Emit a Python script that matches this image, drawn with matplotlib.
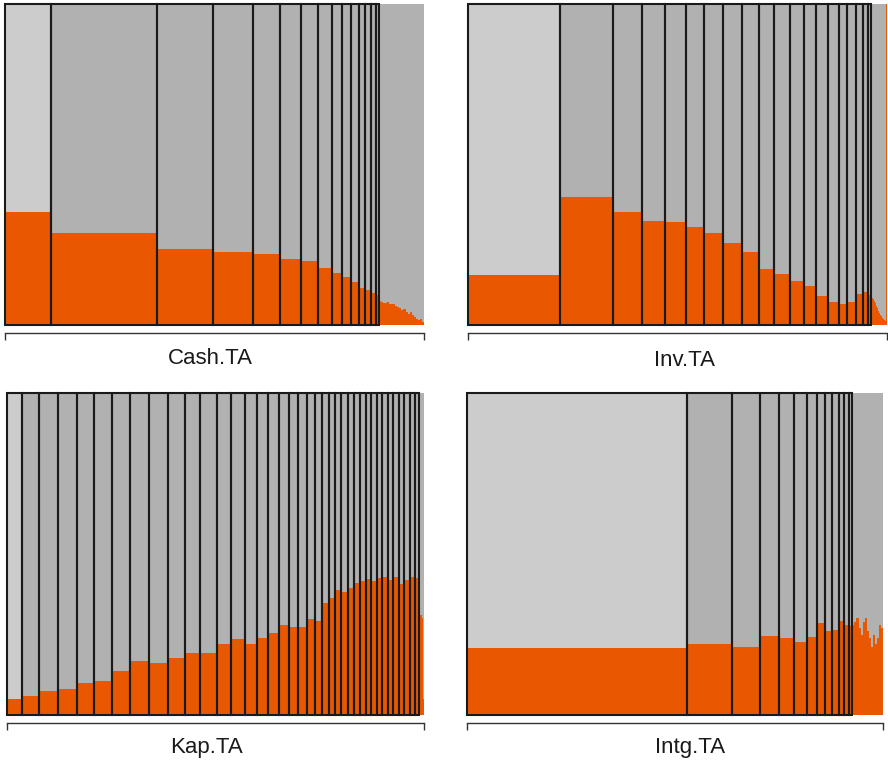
import numpy as np
import matplotlib
matplotlib.use("Agg")
import matplotlib.pyplot as plt

plt.rcParams['font.family'] = ['Liberation Sans', 'DejaVu Sans']

ORANGE = '#e95800'
LIGHT = '#cccccc'
DARK = '#b1b1b1'

# relative bin widths (share of sample) and orange share per bin
cash_widths = [45.7, 106.3, 56, 39, 27, 21, 17, 14, 10, 9, 8, 6, 6, 5, 3]
cash_props = [0.352, 0.288, 0.236, 0.228, 0.222, 0.205, 0.200, 0.177, 0.163,
              0.150, 0.135, 0.114, 0.109, 0.099, 0.093]
cash_tail_width = 45
cash_tail = [0.075, 0.072, 0.070, 0.068, 0.071, 0.066, 0.064, 0.066, 0.060, 0.055, 0.052,
             0.048, 0.050, 0.040, 0.035, 0.042, 0.030, 0.025, 0.020, 0.015, 0.018, 0.010]

inv_widths = [91.7, 53.3, 29, 22.7, 20.7, 18.6, 19, 19, 17, 15, 15.7, 14, 12,
              11.7, 11, 8.6, 8.4, 7, 5.6, 2.4]
inv_props = [0.156, 0.400, 0.351, 0.325, 0.320, 0.306, 0.286, 0.254, 0.228, 0.173,
             0.159, 0.137, 0.121, 0.090, 0.073, 0.065, 0.072, 0.098, 0.104, 0.095]
inv_tail_width = 16
inv_tail = [0.090, 0.085, 0.080, 0.074, 0.068, 0.060, 0.052, 0.045, 0.038, 0.032,
            0.027, 0.022, 0.018, 0.015, 0.012, 1.0]

kap_widths = [14.7, 17.3, 18.4, 19, 17.6, 17.4, 18.3, 19, 18.7, 17.6, 15, 16.4, 14.3,
              14, 12, 11.3, 11, 10, 9, 8.7, 7.7, 7, 7, 6.3, 6.3, 6.4, 6, 6.3, 6,
              5.3, 5.7, 5.3, 5.4, 5.6, 5.4, 5.6, 5.7, 4.7, 4.6]
kap_props = [0.049, 0.059, 0.076, 0.081, 0.098, 0.107, 0.138, 0.169, 0.161, 0.176,
             0.192, 0.192, 0.221, 0.235, 0.221, 0.238, 0.256, 0.278, 0.273, 0.273,
             0.298, 0.293, 0.347, 0.363, 0.389, 0.383, 0.394, 0.409, 0.415, 0.422,
             0.415, 0.425, 0.428, 0.420, 0.430, 0.407, 0.420, 0.428, 0.426]
kap_tail_width = 4.7
kap_tail = [0.31, 0.31, 0.30, 0.05]

intg_widths = [220, 45.6, 27.7, 19, 15, 12.7, 10, 8.3, 7.3, 6.7, 5.3, 5, 3]
intg_props = [0.207, 0.221, 0.212, 0.246, 0.238, 0.228, 0.241, 0.287, 0.262,
              0.264, 0.293, 0.280, 0.275]
intg_tail_width = 31
intg_tail = [0.28, 0.29, 0.30, 0.27, 0.25, 0.29, 0.30, 0.26, 0.24, 0.21,
             0.25, 0.22, 0.24, 0.28, 0.27]

names = ['Cash.TA', 'Inv.TA', 'Kap.TA', 'Intg.TA']

W, H = 888, 765
fig = plt.figure(figsize=(W / 100, H / 100), dpi=100)

# panel boxes in pixels: left, top, right, bottom ; label centre
boxes = [(5, 4, 424, 325), (468.3, 4, 886.7, 325),
         (7.3, 393, 424, 715), (466.7, 393, 883.3, 715)]
label_pos = [(210, 358), (685, 361), (206, 748), (690, 748)]

panels = [(cash_widths, cash_props, cash_tail_width, cash_tail),
          (inv_widths, inv_props, inv_tail_width, inv_tail),
          (kap_widths, kap_props, kap_tail_width, kap_tail),
          (intg_widths, intg_props, intg_tail_width, intg_tail)]

for (widths, props, tw, tail), (l, t, r, b), name, (lx, ly) in zip(panels, boxes, names, label_pos):
    ax = fig.add_axes([l / W, 1 - b / H, (r - l) / W, (b - t) / H])
    widths = np.array(widths, float)
    props = np.array(props, float)
    lefts = np.concatenate([[0], np.cumsum(widths)[:-1]])
    greys = [LIGHT] + [DARK] * (len(widths) - 1)

    ax.bar(lefts, props, widths, align='edge', color=ORANGE, linewidth=0)
    ax.bar(lefts, 1 - props, widths, bottom=props, align='edge', color=greys, linewidth=0)

    end = widths.sum()
    tail = np.array(tail, float)
    tstep = tw / len(tail)
    tlefts = end + np.arange(len(tail)) * tstep
    ax.bar(tlefts, tail, tstep, align='edge', color=ORANGE, linewidth=0)
    ax.bar(tlefts, 1 - tail, tstep, bottom=tail, align='edge', color=DARK, linewidth=0)

    # bin outlines
    ax.bar(lefts, np.ones(len(widths)), widths, align='edge', fill=False,
           edgecolor='#1a1a1a', linewidth=1.5, clip_on=False)

    total = end + tw
    ax.set_xlim(0, total)
    ax.set_ylim(0, 1)
    for s in ['top', 'left', 'right']:
        ax.spines[s].set_visible(False)
    ax.spines['bottom'].set_position(('outward', 6))
    ax.spines['bottom'].set_bounds(0, total)
    ax.spines['bottom'].set_color('#333333')
    ax.spines['bottom'].set_linewidth(1.0)
    ax.set_xticks([0, total])
    ax.set_xticklabels(['', ''])
    ax.tick_params(axis='x', direction='out', length=5, width=1.0, color='#333333')
    ax.set_yticks([])
    ax.patch.set_alpha(0)

    fig.text(lx / W, 1 - ly / H, name, ha='center', va='center', fontsize=16, color='#1a1a1a')

fig.savefig('out.png', dpi=100)
